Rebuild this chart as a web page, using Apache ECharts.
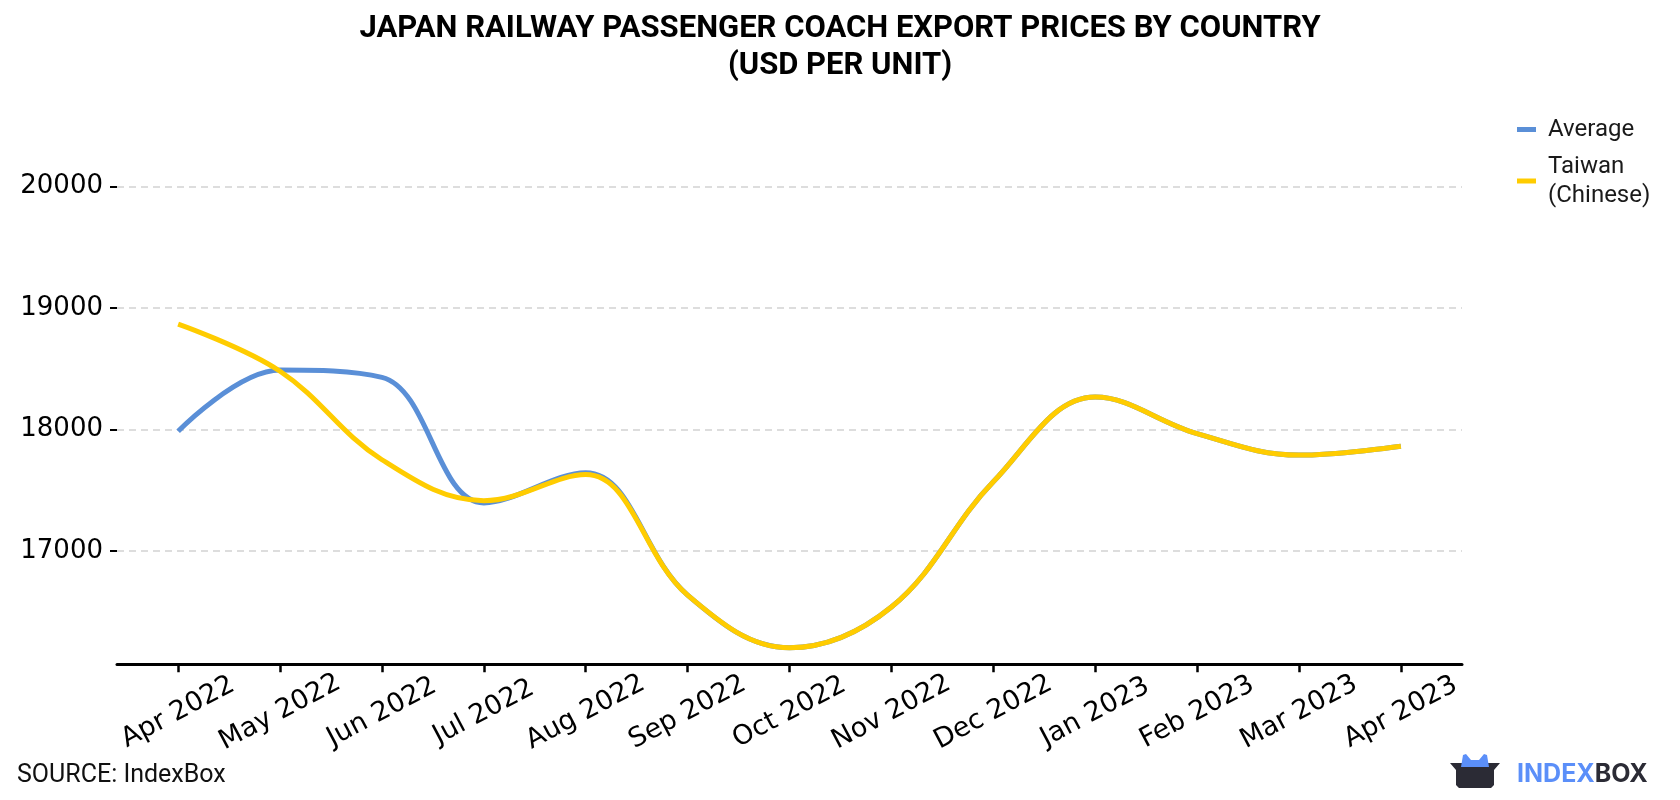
<!DOCTYPE html>
<html>
<head>
<meta charset="utf-8">
<script src="https://cdn.jsdelivr.net/npm/echarts@6/dist/echarts.min.js"></script>
<style>
html,body{margin:0;padding:0;background:#fff;}
#chart{width:1680px;height:800px;}
</style>
</head>
<body>
<div id="chart"></div>
<script>
const categories = ['Apr 2022','May 2022','Jun 2022','Jul 2022','Aug 2022','Sep 2022','Oct 2022','Nov 2022','Dec 2022','Jan 2023','Feb 2023','Mar 2023','Apr 2023'];
const averageValues = [17986, 18490, 18430, 17397, 17645, 16638, 16205, 16540, 17571, 18268, 17967, 17790, 17863];
const taiwanValues  = [18868, 18480, 17752, 17415, 17630, 16638, 16205, 16540, 17571, 18268, 17967, 17790, 17863];
const yTicks = [17000, 18000, 19000, 20000];
const seriesNames = ['Average', 'Taiwan\n(Chinese)'];
const titleText = 'JAPAN RAILWAY PASSENGER COACH EXPORT PRICES BY COUNTRY\n(USD PER UNIT)';

const chart = echarts.init(document.getElementById('chart'), null, {renderer: 'canvas'});
const xIdx = categories.map((c, i) => i);

const option = {
  backgroundColor: '#ffffff',
  animation: false,
  title: {
    text: titleText,
    left: 'center',
    top: 6,
    textStyle: {
      fontFamily: 'Roboto',
      fontWeight: 'bold',
      fontSize: 31,
      lineHeight: 37,
      color: '#000'
    }
  },
  legend: {
    orient: 'vertical',
    left: 1512,
    top: 110,
    itemWidth: 19,
    itemHeight: 5,
    itemGap: 8,
    icon: 'rect',
    align: 'left',
    data: seriesNames,
    textStyle: {
      fontFamily: 'Roboto',
      fontSize: 24,
      lineHeight: 29,
      color: '#1a1a1a',
      padding: [0, 0, 0, 7]
    }
  },
  grid: {
    left: 117,
    right: 218,
    top: 186.5,
    bottom: 135.7,
    containLabel: false
  },
  xAxis: {
    type: 'value',
    min: -0.6,
    max: 12.6,
    splitLine: {show: false},
    axisLine: {show: true, onZero: false, lineStyle: {color: '#000', width: 3}},
    axisTick: {show: true, length: 8, lineStyle: {color: '#000', width: 2.5}, customValues: xIdx},
    axisLabel: {
      customValues: xIdx,
      formatter: v => categories[Math.round(v)],
      rotate: 28,
      align: 'center',
      verticalAlign: 'middle',
      margin: 48,
      fontFamily: 'DejaVu Sans',
      fontSize: 27,
      color: '#000'
    }
  },
  yAxis: {
    type: 'value',
    min: 16069,
    max: 20000,
    axisLine: {show: false, onZero: false},
    axisTick: {show: true, length: 7, lineStyle: {color: '#000', width: 2}, customValues: yTicks},
    axisLabel: {
      customValues: yTicks,
      formatter: v => String(v),
      margin: 14,
      fontFamily: 'DejaVu Sans',
      fontSize: 26,
      color: '#000'
    },
    splitLine: {show: true, lineStyle: {color: '#dddddd', width: 2, type: [7, 5]}}
  },
  series: [
    {
      name: seriesNames[0],
      type: 'line',
      smooth: 0.38,
      showSymbol: false,
      symbol: 'none',
      data: averageValues.map((v, i) => [i, v]),
      lineStyle: {color: '#5a8fd7', width: 5},
      itemStyle: {color: '#5a8fd7'}
    },
    {
      name: seriesNames[1],
      type: 'line',
      smooth: 0.38,
      showSymbol: false,
      symbol: 'none',
      data: taiwanValues.map((v, i) => [i, v]),
      lineStyle: {color: '#ffcc00', width: 5},
      itemStyle: {color: '#ffcc00'}
    }
  ],
  graphic: [
    {
      type: 'text',
      left: 17,
      top: 763,
      style: {text: 'SOURCE: IndexBox', fontFamily: 'Roboto', fontSize: 25, fill: '#111'}
    },
    {
      type: 'polygon',
      shape: {points: [[1450,763],[1500,763],[1494,770],[1494,785],[1491,788],[1459,788],[1456,785],[1456,770]]},
      style: {fill: '#2b2b35'}
    },
    {
      type: 'polygon',
      shape: {points: [[1461,767],[1463,755],[1466,754],[1471,760],[1479,760],[1484,754],[1487,755],[1489,767]]},
      style: {fill: '#5b8ff9'}
    },
    {
      type: 'text',
      x: 1517,
      y: 762,
      style: {
        text: '{a|INDEX}{b|BOX}',
        rich: {
          a: {fontFamily: 'Inter', fontWeight: 'bold', fontSize: 25, fill: '#5b8ff9', color: '#5b8ff9'},
          b: {fontFamily: 'Inter', fontWeight: 'bold', fontSize: 25, fill: '#2b2b35', color: '#2b2b35'}
        }
      }
    }
  ]
};
chart.setOption(option);
</script>
</body>
</html>
